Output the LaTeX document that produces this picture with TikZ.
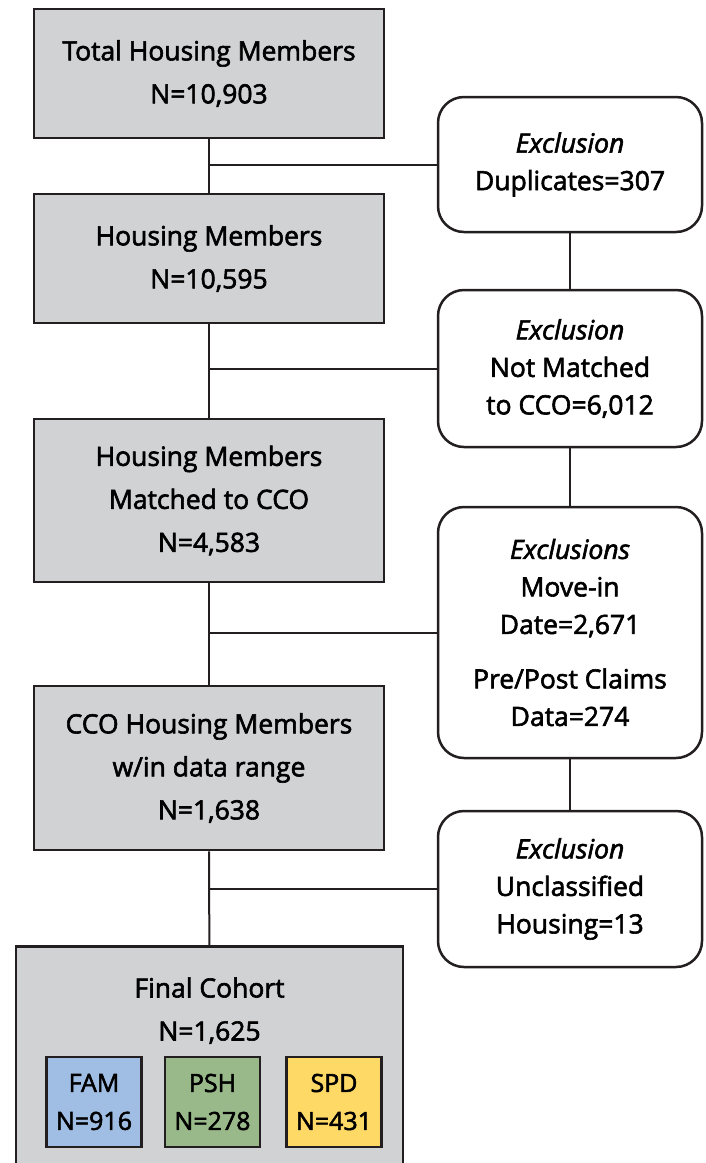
\documentclass[tikz,border=0pt]{standalone}
\usepackage{fontspec}
\setmainfont{Open Sans}[FakeBold=2.2]
\usetikzlibrary{positioning}
\definecolor{linedark}{HTML}{231F20}
\definecolor{boxgray}{HTML}{D1D2D4}
\definecolor{famblue}{HTML}{A0BDE3}
\definecolor{pshgreen}{HTML}{9AB98A}
\definecolor{spdyellow}{HTML}{FFD966}
\tikzset{
    stage/.style={
        draw=linedark,
        line width=2.8,
        fill=boxgray,
        minimum width=350,
        align=center,
        font=\fontsize{26.5}{43}\selectfont,
    },
    excl/.style={
        draw=linedark,
        line width=2.5,
        fill=white,
        rounded corners=26,
        minimum width=264,
        align=center,
        font=\fontsize{26.5}{37.5}\selectfont,
    },
    group/.style={
        draw=linedark,
        line width=2.5,
        minimum width=95,
        minimum height=90,
        align=center,
        font=\fontsize{25}{38}\selectfont,
    },
    link/.style={draw=linedark, line width=2},
}

\begin{document}
\begin{tikzpicture}[x=1pt, y=-1pt]
   \useasboundingbox (0,0) rectangle (706,1163);
   \clip (0,0) rectangle (706,1163);
   % main column
   \node[stage, minimum height=129] (total) at (209,73.5) {Total Housing Members\\N=10,903};
   \node[stage, minimum height=129] (housing) at (209,258.5) {Housing Members\\N=10,595};
   \node[stage, minimum height=163] (matched) at (209,500.5) {Housing Members\\Matched to CCO\\N=4,583};
   \node[stage, minimum height=164] (range) at (209,768) {CCO Housing Members\\w/in data range\\N=1,638};
   \node[stage, anchor=north, minimum width=387, minimum height=235, text depth=110] (cohort) at (209.5,945) {Final Cohort\\N=1,625};
   \node[group, fill=famblue] (fam) at (94,1102) {FAM\\N=916};
   \node[group, fill=pshgreen, right=21 of fam] (psh) {PSH\\N=278};
   \node[group, fill=spdyellow, right=24 of psh] (spd) {SPD\\N=431};
   % exclusions
   \node[excl, minimum height=135] (dup) at (570,164.5) {\textit{Exclusion}\\Duplicates=307};
   \node[excl, minimum height=157] (nomatch) at (570,368.5) {\textit{Exclusion}\\Not Matched\\to CCO=6,012};
   \node[excl, minimum height=251] (movein) at (570,632.5) {\textit{Exclusions}\\Move-in\\Date=2,671\\[17pt]Pre/Post Claims\\Data=274};
   \node[excl, minimum height=156] (unclass) at (570,889) {\textit{Exclusion}\\Unclassified\\Housing=13};
   % connectors
   \draw[link] (total) -- (housing);
   \draw[link] (housing) -- (matched);
   \draw[link] (matched) -- (range);
   \draw[link] (range) -- (cohort);
   \draw[link] (dup) -- (nomatch);
   \draw[link] (nomatch) -- (movein);
   \draw[link] (movein) -- (unclass);
   \draw[link] (dup.west) -- (dup.west -| total);
   \draw[link] (nomatch.west) -- (nomatch.west -| total);
   \draw[link] (movein.west) -- (movein.west -| total);
   \draw[link] (unclass.west) -- (unclass.west -| total);
\end{tikzpicture}
\end{document}
